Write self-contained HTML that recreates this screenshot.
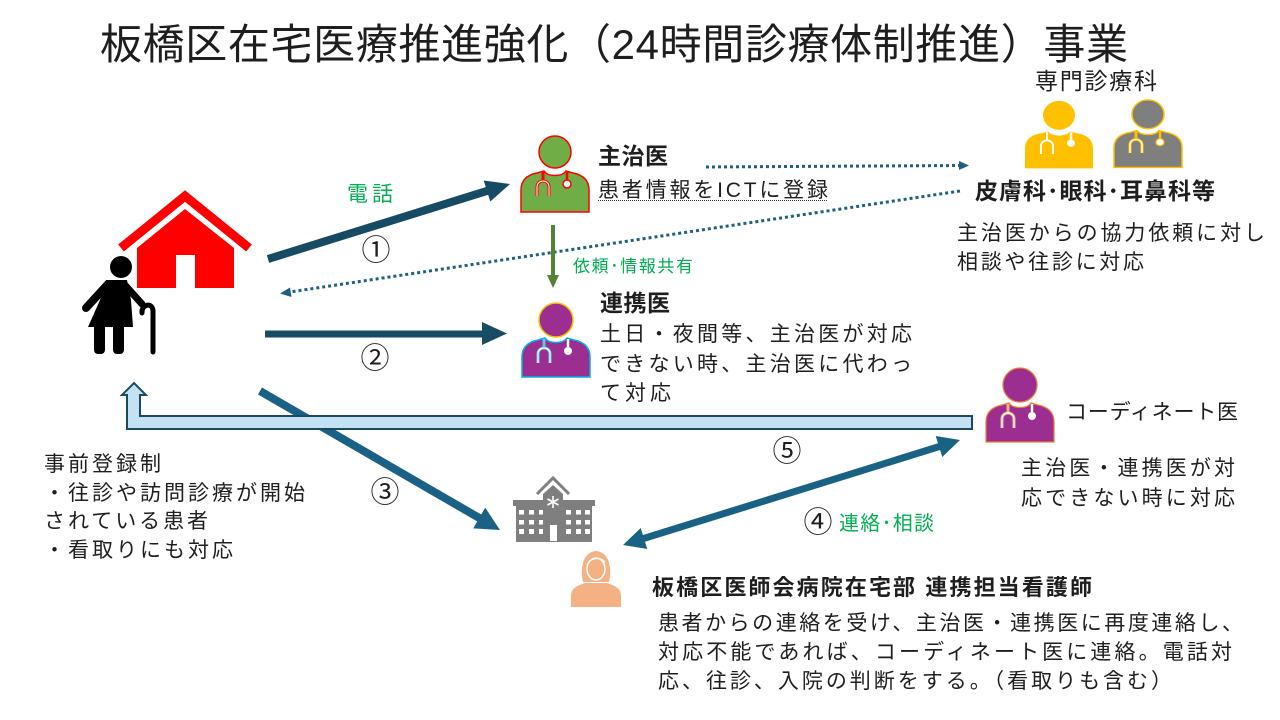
<!DOCTYPE html>
<html><head><meta charset="utf-8"><style>
html,body{margin:0;padding:0;background:#fff;}
svg{display:block;}
text{font-family:"Liberation Sans","Noto Sans CJK JP",sans-serif;fill:#1e1e1e;}
.b{font-weight:bold;}
.g{fill:#00b050;}
</style></head><body>
<svg width="1280" height="720" viewBox="0 0 1280 720" xmlns="http://www.w3.org/2000/svg">
<rect width="1280" height="720" fill="#fff"/>

<!-- Title -->
<text x="100" y="59" font-size="42" textLength="1028" lengthAdjust="spacing" fill="#111">板橋区在宅医療推進強化（24時間診療体制推進）事業</text>

<!-- House -->
<polyline points="121,248 185,196 249,248" fill="none" stroke="#ff0000" stroke-width="9"/>
<polygon points="185,209 234,248 234,288 137,288 137,248" fill="#ff0000"/>
<rect x="176" y="255" width="19" height="33" fill="#fff"/>

<!-- Elderly woman -->
<g fill="#000" stroke="none">
<circle cx="121" cy="267" r="11"/>
<polygon points="106,280 127,280 131,300 133,327 88,327 100,300"/>
<line x1="108" y1="284" x2="86" y2="308" stroke="#000" stroke-width="8" stroke-linecap="round"/>
<line x1="124" y1="284" x2="142" y2="304" stroke="#000" stroke-width="7" stroke-linecap="round"/>
<rect x="94" y="322" width="11" height="32" rx="4"/>
<rect x="113" y="322" width="11" height="32" rx="4"/>
<path d="M142,313 C141,304 153,302 153,311 L153,352" fill="none" stroke="#000" stroke-width="5" stroke-linecap="round"/>
</g>

<!-- Arrow 1 -->
<line x1="268" y1="259" x2="490" y2="190" stroke="#164b63" stroke-width="8"/>
<polygon points="510,184 490.3,201.5 483.7,180.5" fill="#164b63"/>
<!-- Arrow 2 -->
<line x1="265" y1="334" x2="486" y2="334" stroke="#174c64" stroke-width="7"/>
<polygon points="507,333.5 482,322 482,345" fill="#174c64"/>
<!-- Arrow 3 -->
<line x1="260" y1="391" x2="481" y2="519" stroke="#1b6186" stroke-width="8"/>
<polygon points="500,530 473.2,528.4 485.2,507.6" fill="#1b6186"/>
<!-- Arrow 4 double -->
<line x1="642" y1="539" x2="941" y2="446" stroke="#1a6283" stroke-width="7"/>
<polygon points="623,545 647.3,549 640.7,528" fill="#1a6283"/>
<polygon points="960,440 942.3,457 935.7,436" fill="#1a6283"/>

<!-- Dotted arrows -->
<line x1="706" y1="167" x2="960" y2="165.5" stroke="#1f5f7f" stroke-width="3" stroke-dasharray="3,3"/>
<polygon points="969,165.5 959,161 959,170" fill="#1f5f7f"/>
<line x1="960" y1="191" x2="290" y2="292" stroke="#1f5f7f" stroke-width="3" stroke-dasharray="3,3"/>
<polygon points="280,293.5 290,287.5 291.5,297" fill="#1f5f7f"/>

<!-- Green vertical arrow -->
<line x1="553" y1="225" x2="553" y2="277" stroke="#548235" stroke-width="4"/>
<polygon points="553,288 547,275 559,275" fill="#548235"/>

<!-- Bent arrow (5) -->
<polygon points="127,429 972,429 972,416 140,416 140,395 146,395 134,383 122,395 127,395" fill="#c3e3f4" stroke="#1b4a60" stroke-width="2" stroke-linejoin="miter"/>

<!-- Doctor: 主治医 (green) -->
<g transform="translate(521,136)">
<circle cx="34" cy="16" r="16" fill="#70ad47" stroke="#ff0000" stroke-width="1.5"/>
<path d="M0,76 L0,54 C0,44 6,39 16,37 L23,35 C27,41 41,41 45,35 L52,37 C62,39 68,44 68,54 L68,76 Z" fill="#70ad47" stroke="#ff0000" stroke-width="1.5"/>
<path d="M22,36 L22,45 M16,60 L16,51 C16,43 28,43 28,51 L28,60" fill="none" stroke="#ff0000" stroke-width="3"/>
<path d="M16,60 L16,51 C16,43 28,43 28,51 L28,60" fill="none" stroke="#fff" stroke-width="1"/>
<line x1="46" y1="36" x2="46" y2="44" stroke="#ff0000" stroke-width="2.5"/>
<circle cx="46" cy="48" r="4" fill="#fff" stroke="#ff0000" stroke-width="1.5"/>
</g>

<!-- Doctor: 連携医 (purple) -->
<g transform="translate(522,303)">
<circle cx="34" cy="17" r="17" fill="#9c2d91" stroke="#ffc000" stroke-width="1.5"/>
<path d="M0,74 L0,54 C0,44 6,39 16,37 L23,35 C27,41 41,41 45,35 L52,37 C62,39 68,44 68,54 L68,74 Z" fill="#9c2d91" stroke="#00b0f0" stroke-width="1.5"/>
<path d="M22,36 L22,45 M16,60 L16,51 C16,43 28,43 28,51 L28,60" fill="none" stroke="#5ec4f0" stroke-width="3"/>
<path d="M16,60 L16,51 C16,43 28,43 28,51 L28,60" fill="none" stroke="#fff" stroke-width="1.2"/>
<line x1="46" y1="36" x2="46" y2="44" stroke="#fff" stroke-width="2.5"/>
<circle cx="46" cy="48" r="4" fill="#fff"/>
</g>

<!-- Doctor: コーディネート医 -->
<g transform="translate(986,368)">
<circle cx="34" cy="17" r="17" fill="#9c2d91" stroke="#ed7d31" stroke-width="1.2"/>
<path d="M0,74 L0,54 C0,44 6,39 16,37 L23,35 C27,41 41,41 45,35 L52,37 C62,39 68,44 68,54 L68,74 Z" fill="#9c2d91" stroke="#ed7d31" stroke-width="1.2"/>
<path d="M22,36 L22,45 M16,60 L16,51 C16,43 28,43 28,51 L28,60" fill="none" stroke="#f4b183" stroke-width="3"/>
<path d="M16,60 L16,51 C16,43 28,43 28,51 L28,60" fill="none" stroke="#fff" stroke-width="1.2"/>
<line x1="46" y1="36" x2="46" y2="44" stroke="#fff" stroke-width="2.5"/>
<circle cx="46" cy="48" r="4" fill="#fff"/>
</g>

<!-- Specialist doctors -->
<g transform="translate(1025,100) scale(1,0.9)">
<circle cx="34" cy="17" r="16" fill="#ffc000"/>
<path d="M0,76 L0,54 C0,44 6,39 16,37 L23,35 C27,41 41,41 45,35 L52,37 C62,39 68,44 68,54 L68,76 Z" fill="#ffc000"/>
<path d="M22,36 L22,45 M16,60 L16,51 C16,43 28,43 28,51 L28,60" fill="none" stroke="#fff" stroke-width="2"/>
<line x1="46" y1="36" x2="46" y2="44" stroke="#fff" stroke-width="2.5"/>
<circle cx="46" cy="48" r="4" fill="#fff"/>
</g>
<g transform="translate(1114,99) scale(1,0.9)">
<circle cx="34" cy="17" r="16" fill="#7f7f7f" stroke="#ffc000" stroke-width="1.5"/>
<path d="M0,76 L0,54 C0,44 6,39 16,37 L23,35 C27,41 41,41 45,35 L52,37 C62,39 68,44 68,54 L68,76 Z" fill="#7f7f7f" stroke="#ffc000" stroke-width="1.5"/>
<path d="M22,36 L22,45 M16,60 L16,51 C16,43 28,43 28,51 L28,60" fill="none" stroke="#ffc000" stroke-width="3"/>
<path d="M16,60 L16,51 C16,43 28,43 28,51 L28,60" fill="none" stroke="#fff" stroke-width="1.2"/>
<line x1="46" y1="36" x2="46" y2="44" stroke="#ffc000" stroke-width="2.5"/>
<circle cx="46" cy="48" r="4" fill="#fff" stroke="#ffc000" stroke-width="1.2"/>
</g>

<!-- Hospital -->
<g fill="#7f7f7f">
<polyline points="537,494 553,478 569,494" fill="none" stroke="#7f7f7f" stroke-width="3"/>
<polygon points="543,502 543,494 553,485 563,494 563,502"/>
<rect x="513" y="500" width="82" height="6"/>
<rect x="516" y="505" width="76" height="37"/>
<rect x="543" y="494" width="20" height="48"/>
</g>
<g stroke="#fff" stroke-width="1.6">
<line x1="553" y1="496" x2="553" y2="508"/>
<line x1="547.5" y1="499" x2="558.5" y2="505"/>
<line x1="547.5" y1="505" x2="558.5" y2="499"/>
</g>
<g fill="#fff">
<rect x="519" y="510" width="5" height="4.5"/><rect x="529" y="510" width="5" height="4.5"/><rect x="539" y="510" width="4" height="4.5"/>
<rect x="519" y="520" width="5" height="4.5"/><rect x="529" y="520" width="5" height="4.5"/><rect x="539" y="520" width="4" height="4.5"/>
<rect x="519" y="529" width="5" height="5"/><rect x="529" y="529" width="5" height="5"/><rect x="539" y="529" width="4" height="5"/>
<rect x="566" y="510" width="5" height="4.5"/><rect x="576" y="510" width="5" height="4.5"/><rect x="585" y="510" width="5" height="4.5"/>
<rect x="566" y="520" width="5" height="4.5"/><rect x="576" y="520" width="5" height="4.5"/><rect x="585" y="520" width="5" height="4.5"/>
<rect x="566" y="529" width="5" height="5"/><rect x="576" y="529" width="5" height="5"/><rect x="585" y="529" width="5" height="5"/>
<rect x="550" y="525" width="7" height="16"/>
</g>

<!-- Nurse -->
<g>
<path d="M583,582 C580,570 582,552 596,551 C610,552 612,570 609,582 Z" fill="#f4b183"/>
<ellipse cx="596" cy="569" rx="9" ry="11" fill="#f4b183" stroke="#fff" stroke-width="1.5"/>
<path d="M587,565 C590,558 600,556 605,562" fill="none" stroke="#fff" stroke-width="1.3"/>
<path d="M571,607 L571,596 C571,588 578,585 586,583 L606,583 C614,585 621,588 621,596 L621,607 Z" fill="#f4b183"/>
</g>

<!-- Texts -->
<text x="1035" y="89" font-size="23" textLength="122" lengthAdjust="spacing">専門診療科</text>
<text class="b" x="975" y="199" font-size="23" textLength="240" lengthAdjust="spacing">皮膚科･眼科･耳鼻科等</text>
<text x="957" y="240" font-size="21" textLength="308" lengthAdjust="spacing">主治医からの協力依頼に対し</text>
<text x="957" y="269" font-size="21" textLength="187" lengthAdjust="spacing">相談や往診に対応</text>

<text class="g" x="347" y="201" font-size="21" textLength="46" lengthAdjust="spacing">電話</text>
<text x="376" y="260" font-size="29" text-anchor="middle">①</text>
<text x="375" y="368" font-size="29" text-anchor="middle">②</text>
<text x="385" y="502" font-size="29" text-anchor="middle">③</text>
<text x="787" y="461" font-size="29" text-anchor="middle">⑤</text>
<text x="818" y="532" font-size="29" text-anchor="middle">④</text>
<text class="g" x="839" y="530" font-size="20" textLength="95" lengthAdjust="spacing">連絡･相談</text>

<text class="b" x="598" y="164" font-size="23" textLength="70" lengthAdjust="spacing">主治医</text>
<text x="598" y="197" font-size="21" textLength="230" lengthAdjust="spacing">患者情報をICTに登録</text>
<line x1="598" y1="200.5" x2="828" y2="200.5" stroke="#333" stroke-width="1" stroke-dasharray="1,1"/>
<text class="g" x="573" y="272" font-size="17" textLength="120" lengthAdjust="spacing">依頼･情報共有</text>

<text class="b" x="600" y="311" font-size="23" textLength="70" lengthAdjust="spacing">連携医</text>
<text x="600" y="341" font-size="21" textLength="312" lengthAdjust="spacing">土日・夜間等、主治医が対応</text>
<text x="600" y="371" font-size="21" textLength="312" lengthAdjust="spacing">できない時、主治医に代わっ</text>
<text x="600" y="400" font-size="21" textLength="71" lengthAdjust="spacing">て対応</text>

<text x="1066" y="419" font-size="21" textLength="172" lengthAdjust="spacing">コーディネート医</text>
<text x="1021" y="475" font-size="21" textLength="214" lengthAdjust="spacing">主治医・連携医が対</text>
<text x="1021" y="505" font-size="21" textLength="214" lengthAdjust="spacing">応できない時に対応</text>

<text x="44" y="471" font-size="21" textLength="117" lengthAdjust="spacing">事前登録制</text>
<text x="44" y="500" font-size="21" textLength="261" lengthAdjust="spacing">・往診や訪問診療が開始</text>
<text x="44" y="528" font-size="21" textLength="164" lengthAdjust="spacing">されている患者</text>
<text x="44" y="557" font-size="21" textLength="189" lengthAdjust="spacing">・看取りにも対応</text>

<text class="b" x="652" y="595" font-size="22" textLength="440" lengthAdjust="spacing">板橋区医師会病院在宅部 連携担当看護師</text>
<text x="658" y="630" font-size="21" textLength="585" lengthAdjust="spacing">患者からの連絡を受け、主治医・連携医に再度連絡し、</text>
<text x="658" y="659" font-size="21" textLength="574" lengthAdjust="spacing">対応不能であれば、コーディネート医に連絡。電話対</text>
<text x="658" y="688" font-size="21" textLength="514" lengthAdjust="spacing">応、往診、入院の判断をする。（看取りも含む）</text>
</svg>
</body></html>
